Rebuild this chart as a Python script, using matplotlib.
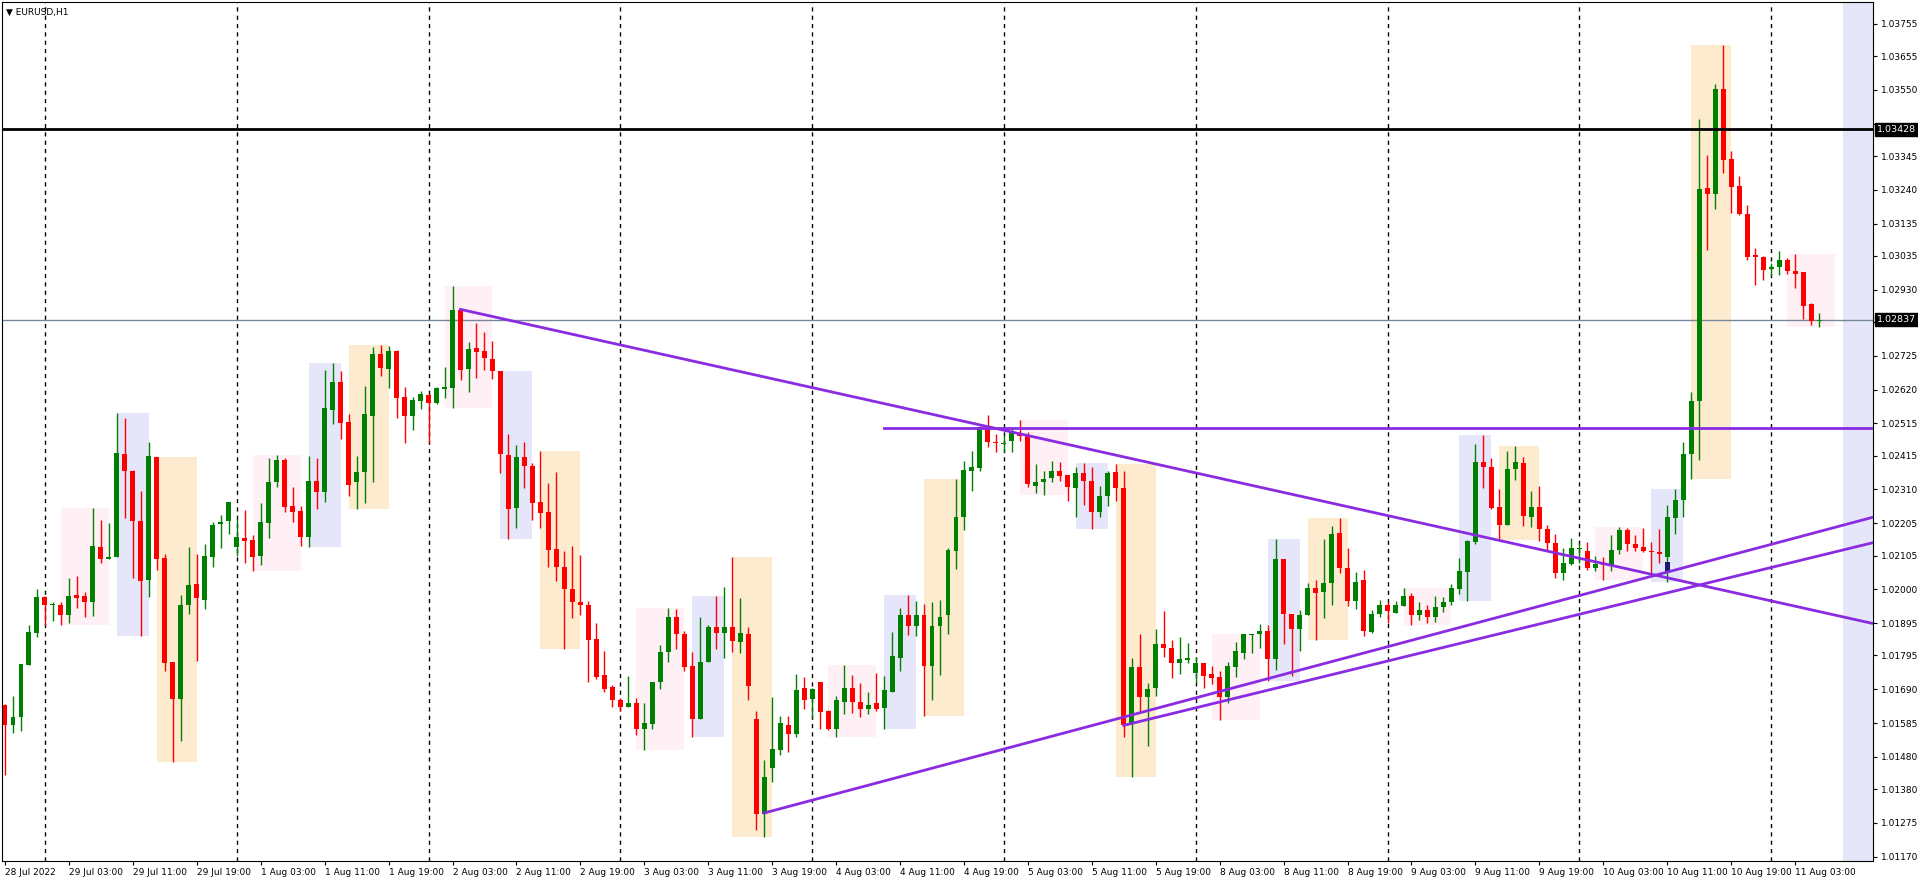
import matplotlib
matplotlib.use("Agg")
import matplotlib.pyplot as plt

# EURUSD H1 bars, 28 Jul 19:00 .. 11 Aug 06:00
opens = [1.01640, 1.01578, 1.01604, 1.01764, 1.01864, 1.01976, 1.01950, 1.01953, 1.01919, 1.01984,
         1.01978, 1.01960, 1.02132, 1.02093, 1.02099, 1.02419, 1.02368, 1.02213, 1.02030, 1.02411,
         1.02096, 1.01774, 1.01660, 1.01953, 1.02017, 1.01968, 1.02099, 1.02203, 1.02211, 1.02133,
         1.02159, 1.02154, 1.02105, 1.02205, 1.02332, 1.02402, 1.02259, 1.02244, 1.02164, 1.02337,
         1.02301, 1.02558, 1.02643, 1.02519, 1.02334, 1.02363, 1.02538, 1.02729, 1.02685, 1.02741,
         1.02597, 1.02539, 1.02586, 1.02602, 1.02579, 1.02623, 1.02626, 1.02868, 1.02685, 1.02748,
         1.02739, 1.02715, 1.02677, 1.02416, 1.02252, 1.02411, 1.02383, 1.02271, 1.02241, 1.02126,
         1.02070, 1.02001, 1.01962, 1.01953, 1.01845, 1.01733, 1.01697, 1.01656, 1.01634, 1.01647,
         1.01567, 1.01582, 1.01711, 1.01805, 1.01915, 1.01863, 1.01761, 1.01598, 1.01774, 1.01882,
         1.01866, 1.01882, 1.01838, 1.01863, 1.01598, 1.01304, 1.01446, 1.01501, 1.01580, 1.01551,
         1.01694, 1.01661, 1.01711, 1.01622, 1.01567, 1.01650, 1.01694, 1.01652, 1.01628, 1.01647,
         1.01631, 1.01680, 1.01788, 1.01919, 1.01886, 1.01921, 1.01761, 1.01885, 1.01919, 1.02119,
         1.02224, 1.02366, 1.02376, 1.02503, 1.02458, 1.02451, 1.02461, 1.02484, 1.02477, 1.02322,
         1.02334, 1.02345, 1.02368, 1.02356, 1.02314, 1.02360, 1.02337, 1.02239, 1.02289, 1.02365,
         1.02315, 1.01584, 1.01759, 1.01667, 1.01694, 1.01832, 1.01819, 1.01770, 1.01782, 1.01742,
         1.01773, 1.01737, 1.01728, 1.01667, 1.01759, 1.01803, 1.01858, 1.01860, 1.01870, 1.01783,
         1.02095, 1.01925, 1.01877, 1.01919, 1.02005, 1.01992, 1.02019, 1.02175, 1.02067, 1.01963,
         1.02028, 1.01868, 1.01925, 1.01950, 1.01927, 1.01948, 1.01981, 1.01919, 1.01935, 1.01915,
         1.01945, 1.01960, 1.02000, 1.02055, 1.02148, 1.02394, 1.02380, 1.02256, 1.02201, 1.02375,
         1.02391, 1.02225, 1.02256, 1.02187, 1.02143, 1.02051, 1.02079, 1.02124, 1.02120, 1.02066,
         1.02081, 1.02076, 1.02121, 1.02184, 1.02140, 1.02131, 1.02120, 1.02116, 1.02101, 1.02223,
         1.02276, 1.02419, 1.02584, 1.03246, 1.03226, 1.03553, 1.03336, 1.03251, 1.03165, 1.03039,
         1.03033, 1.02995, 1.02999, 1.03021, 1.02989, 1.02984, 1.02886, 1.02834]
highs = [1.01645, 1.01668, 1.01769, 1.01888, 1.02000, 1.01978, 1.01960, 1.01962, 1.02034, 1.02043,
         1.01993, 1.02254, 1.02216, 1.02205, 1.02548, 1.02533, 1.02371, 1.02306, 1.02457, 1.02411,
         1.02110, 1.01774, 1.01984, 1.02132, 1.02110, 1.02141, 1.02210, 1.02231, 1.02272, 1.02218,
         1.02247, 1.02169, 1.02267, 1.02409, 1.02417, 1.02409, 1.02319, 1.02259, 1.02414, 1.02409,
         1.02680, 1.02703, 1.02677, 1.02543, 1.02414, 1.02631, 1.02752, 1.02758, 1.02755, 1.02744,
         1.02628, 1.02597, 1.02615, 1.02605, 1.02628, 1.02690, 1.02941, 1.02869, 1.02767, 1.02828,
         1.02798, 1.02770, 1.02677, 1.02483, 1.02448, 1.02457, 1.02391, 1.02430, 1.02330, 1.02363,
         1.02120, 1.02135, 1.02107, 1.01965, 1.01897, 1.01810, 1.01702, 1.01663, 1.01731, 1.01664,
         1.01647, 1.01713, 1.01827, 1.01943, 1.01938, 1.01871, 1.01805, 1.01915, 1.01890, 1.01981,
         1.02006, 1.02099, 1.01973, 1.01882, 1.01622, 1.01470, 1.01667, 1.01606, 1.01606, 1.01736,
         1.01728, 1.01694, 1.01711, 1.01625, 1.01669, 1.01764, 1.01733, 1.01708, 1.01680, 1.01742,
         1.01731, 1.01869, 1.01943, 1.01982, 1.01965, 1.01954, 1.01960, 1.01967, 1.02128, 1.02342,
         1.02399, 1.02430, 1.02508, 1.02542, 1.02482, 1.02480, 1.02502, 1.02526, 1.02487, 1.02389,
         1.02368, 1.02399, 1.02396, 1.02356, 1.02379, 1.02392, 1.02381, 1.02322, 1.02368, 1.02389,
         1.02368, 1.01787, 1.01861, 1.01708, 1.01878, 1.01932, 1.01844, 1.01852, 1.01835, 1.01790,
         1.01773, 1.01761, 1.01747, 1.01775, 1.01837, 1.01863, 1.01863, 1.01894, 1.01888, 1.02155,
         1.02095, 1.01925, 1.01937, 1.02019, 1.02028, 1.02155, 1.02198, 1.02222, 1.02129, 1.02054,
         1.02061, 1.01935, 1.01966, 1.01961, 1.01963, 1.02004, 1.01990, 1.01960, 1.01950, 1.01980,
         1.01975, 1.02016, 1.02098, 1.02154, 1.02452, 1.02479, 1.02408, 1.02311, 1.02430, 1.02444,
         1.02411, 1.02306, 1.02322, 1.02201, 1.02173, 1.02127, 1.02160, 1.02145, 1.02148, 1.02105,
         1.02101, 1.02168, 1.02195, 1.02190, 1.02168, 1.02190, 1.02148, 1.02186, 1.02262, 1.02311,
         1.02458, 1.02612, 1.03461, 1.03348, 1.03569, 1.03688, 1.03362, 1.03284, 1.03194, 1.03058,
         1.03036, 1.03013, 1.03049, 1.03027, 1.03041, 1.02984, 1.02889, 1.02859]
lows = [1.01423, 1.01555, 1.01561, 1.01764, 1.01852, 1.01891, 1.01901, 1.01891, 1.01895, 1.01941,
        1.01914, 1.01916, 1.02081, 1.02093, 1.02099, 1.02220, 1.02035, 1.01855, 1.01976, 1.02060,
        1.01746, 1.01465, 1.01530, 1.01924, 1.01777, 1.01938, 1.02068, 1.02127, 1.02172, 1.02105,
        1.02081, 1.02056, 1.02077, 1.02158, 1.02318, 1.02239, 1.02208, 1.02135, 1.02133, 1.02249,
        1.02272, 1.02514, 1.02466, 1.02290, 1.02251, 1.02267, 1.02334, 1.02662, 1.02626, 1.02533,
        1.02455, 1.02495, 1.02561, 1.02453, 1.02576, 1.02595, 1.02564, 1.02649, 1.02613, 1.02656,
        1.02682, 1.02653, 1.02360, 1.02155, 1.02192, 1.02314, 1.02214, 1.02192, 1.02068, 1.02026,
        1.01816, 1.01910, 1.01919, 1.01711, 1.01722, 1.01683, 1.01636, 1.01622, 1.01634, 1.01548,
        1.01503, 1.01567, 1.01691, 1.01774, 1.01814, 1.01747, 1.01543, 1.01598, 1.01774, 1.01814,
        1.01788, 1.01805, 1.01802, 1.01656, 1.01254, 1.01230, 1.01401, 1.01486, 1.01495, 1.01543,
        1.01628, 1.01600, 1.01567, 1.01564, 1.01543, 1.01614, 1.01617, 1.01603, 1.01614, 1.01622,
        1.01567, 1.01680, 1.01746, 1.01857, 1.01855, 1.01606, 1.01658, 1.01733, 1.01863, 1.02062,
        1.02183, 1.02306, 1.02366, 1.02443, 1.02425, 1.02425, 1.02425, 1.02461, 1.02317, 1.02298,
        1.02294, 1.02334, 1.02337, 1.02275, 1.02226, 1.02263, 1.02188, 1.02224, 1.02260, 1.02275,
        1.01543, 1.01419, 1.01615, 1.01515, 1.01670, 1.01790, 1.01725, 1.01737, 1.01770, 1.01711,
        1.01695, 1.01705, 1.01596, 1.01646, 1.01728, 1.01785, 1.01801, 1.01819, 1.01715, 1.01751,
        1.01832, 1.01732, 1.01809, 1.01919, 1.01844, 1.01911, 1.01953, 1.02051, 1.01948, 1.01938,
        1.01855, 1.01865, 1.01914, 1.01897, 1.01927, 1.01948, 1.01888, 1.01905, 1.01895, 1.01900,
        1.01930, 1.01950, 1.01985, 1.01965, 1.02140, 1.02314, 1.02248, 1.02153, 1.02201, 1.02341,
        1.02197, 1.02195, 1.02151, 1.02123, 1.02035, 1.02029, 1.02076, 1.02082, 1.02060, 1.02057,
        1.02029, 1.02057, 1.02110, 1.02120, 1.02118, 1.02116, 1.02051, 1.02082, 1.02024, 1.02173,
        1.02225, 1.02344, 1.02400, 1.03054, 1.03182, 1.03292, 1.03168, 1.03161, 1.03022, 1.02945,
        1.02960, 1.02973, 1.02975, 1.02980, 1.02934, 1.02840, 1.02820, 1.02814]
closes = [1.01578, 1.01604, 1.01769, 1.01869, 1.01976, 1.01950, 1.01953, 1.01919, 1.01981, 1.01972,
          1.01960, 1.02135, 1.02093, 1.02101, 1.02424, 1.02366, 1.02213, 1.02027, 1.02414, 1.02093,
          1.01771, 1.01660, 1.01953, 1.02015, 1.01972, 1.02105, 1.02201, 1.02210, 1.02270, 1.02163,
          1.02151, 1.02102, 1.02208, 1.02332, 1.02402, 1.02257, 1.02241, 1.02164, 1.02337, 1.02301,
          1.02564, 1.02643, 1.02517, 1.02325, 1.02365, 1.02543, 1.02729, 1.02688, 1.02741, 1.02595,
          1.02539, 1.02587, 1.02605, 1.02579, 1.02624, 1.02628, 1.02868, 1.02680, 1.02747, 1.02737,
          1.02717, 1.02678, 1.02419, 1.02248, 1.02411, 1.02382, 1.02269, 1.02238, 1.02121, 1.02068,
          1.02001, 1.01962, 1.01951, 1.01842, 1.01728, 1.01691, 1.01656, 1.01634, 1.01647, 1.01567,
          1.01584, 1.01713, 1.01807, 1.01915, 1.01860, 1.01758, 1.01598, 1.01775, 1.01882, 1.01866,
          1.01882, 1.01841, 1.01866, 1.01700, 1.01302, 1.01418, 1.01504, 1.01584, 1.01551, 1.01687,
          1.01656, 1.01692, 1.01619, 1.01567, 1.01656, 1.01694, 1.01650, 1.01628, 1.01642, 1.01628,
          1.01687, 1.01792, 1.01919, 1.01886, 1.01921, 1.01761, 1.01885, 1.01915, 1.02121, 1.02226,
          1.02371, 1.02379, 1.02503, 1.02456, 1.02453, 1.02455, 1.02487, 1.02475, 1.02327, 1.02334,
          1.02342, 1.02368, 1.02353, 1.02317, 1.02362, 1.02337, 1.02239, 1.02291, 1.02362, 1.02315,
          1.01579, 1.01759, 1.01667, 1.01692, 1.01832, 1.01818, 1.01770, 1.01783, 1.01786, 1.01773,
          1.01732, 1.01726, 1.01667, 1.01761, 1.01808, 1.01861, 1.01861, 1.01870, 1.01783, 1.02095,
          1.01925, 1.01877, 1.01921, 1.02005, 1.01988, 1.02020, 1.02172, 1.02066, 1.01963, 1.02023,
          1.01871, 1.01925, 1.01950, 1.01933, 1.01950, 1.01981, 1.01919, 1.01935, 1.01915, 1.01945,
          1.01960, 1.02004, 1.02057, 1.02151, 1.02394, 1.02381, 1.02253, 1.02201, 1.02375, 1.02394,
          1.02228, 1.02256, 1.02186, 1.02143, 1.02051, 1.02082, 1.02127, 1.02129, 1.02066, 1.02079,
          1.02076, 1.02123, 1.02184, 1.02140, 1.02129, 1.02118, 1.02115, 1.02109, 1.02225, 1.02278,
          1.02420, 1.02584, 1.03243, 1.03226, 1.03553, 1.03334, 1.03248, 1.03165, 1.03033, 1.03033,
          1.02991, 1.03002, 1.03021, 1.02988, 1.02980, 1.02879, 1.02833, 1.02837]

# chart objects
day_starts = [5, 29, 53, 77, 101, 125, 149, 173, 197, 221]
sessions = [(2, 6, "#FFF0F5"), (9, 4, "#E6E6FA"), (14, 5, "#FDEBD0")]  # offset, bars, colour
resist_level = 1.03428
last_price = 1.02837
flat_line = (110, 1.02502)
down_line = [(57, 1.02869), (233.75, 1.01894)]
up_line_1 = [(95, 1.01306), (233.75, 1.02224)]
up_line_2 = [(140, 1.01578), (233.75, 1.02145)]
marker_bar, marker_price = 208, 1.02068

price_ticks = [1.01170, 1.01275, 1.01380, 1.01480, 1.01585, 1.01690, 1.01795, 1.01895, 1.02000,
               1.02105, 1.02205, 1.02310, 1.02415, 1.02515, 1.02620, 1.02725, 1.02830, 1.02930,
               1.03035, 1.03135, 1.03240, 1.03345, 1.03445, 1.03550, 1.03655, 1.03755]
time_labels = ["28 Jul 2022", "29 Jul 03:00", "29 Jul 11:00", "29 Jul 19:00", "1 Aug 03:00",
               "1 Aug 11:00", "1 Aug 19:00", "2 Aug 03:00", "2 Aug 11:00", "2 Aug 19:00",
               "3 Aug 03:00", "3 Aug 11:00", "3 Aug 19:00", "4 Aug 03:00", "4 Aug 11:00",
               "4 Aug 19:00", "5 Aug 03:00", "5 Aug 11:00", "5 Aug 19:00", "8 Aug 03:00",
               "8 Aug 11:00", "8 Aug 19:00", "9 Aug 03:00", "9 Aug 11:00", "9 Aug 19:00",
               "10 Aug 03:00", "10 Aug 11:00", "10 Aug 19:00", "11 Aug 03:00"]

n = len(closes)
ymin, ymax = 1.01157, 1.03823
xmin, xmax = -0.375, 233.75

plt.rcParams['font.family'] = ['DejaVu Sans']
fig = plt.figure(figsize=(19.18, 8.8), dpi=100)
ax = fig.add_axes([2 / 1918, 19 / 880, 1871 / 1918, 859 / 880])
ax.set_xlim(xmin, xmax)
ax.set_ylim(ymin, ymax)

# session boxes
for d in day_starts:
    for off, cnt, col in sessions:
        s = d + off
        idx = [i for i in range(s, s + cnt) if i < n]
        if idx:
            lo = min(lows[i] for i in idx)
            hi = max(highs[i] for i in idx)
        else:
            lo, hi = ymin, ymax
        ax.fill_between([s, s + cnt], lo, hi, color=col, lw=0, zorder=0)

# day separators
for d in day_starts:
    ax.axvline(d, color="black", lw=1, ls=(0, (3, 3)), zorder=1)

# candles
for i in range(n):
    up = closes[i] >= opens[i]
    col = "#008000" if up else "#FF0000"
    ax.vlines(i, lows[i], highs[i], color=col, lw=1, zorder=3)
    bot = min(opens[i], closes[i])
    h = max(abs(closes[i] - opens[i]), 0.000035)
    ax.bar(i, h, bottom=bot, width=0.62, color=col, lw=0, zorder=4)
ax.bar(marker_bar, 0.00035, bottom=marker_price - 0.000175, width=0.62, color="#191970", zorder=5)

# levels and trend lines
ax.axhline(resist_level, color="black", lw=2, zorder=6)
ax.axhline(last_price, color="#778899", lw=1, zorder=2)
pc = "#8A2BE2"
ax.plot([flat_line[0], xmax], [flat_line[1], flat_line[1]], color=pc, lw=2, zorder=6)
for ln in (down_line, up_line_1, up_line_2):
    ax.plot([p[0] for p in ln], [p[1] for p in ln], color=pc, lw=2, zorder=6)

# axes styling
for sp in ax.spines.values():
    sp.set_color("black")
ax.yaxis.tick_right()
ax.set_yticks(price_ticks)
# labels hidden behind the price boxes are left blank
hidden = (1.02830, 1.03445)
ax.set_yticklabels(["" if p in hidden else f"{p:.5f}" for p in price_ticks], fontsize=6.5)
ax.tick_params(axis="y", length=3, pad=3)
ax.set_xticks(range(0, 8 * len(time_labels), 8))
ax.set_xticklabels(time_labels, fontsize=6.5, ha="left")
ax.tick_params(axis="x", length=3, pad=2)

for v in (resist_level, last_price):
    ax.text(1.002, v, f"{v:.5f}", transform=ax.get_yaxis_transform(), fontsize=6.8,
            color="white", va="center", ha="left",
            bbox=dict(boxstyle="square,pad=0.2", fc="black", ec="black"))

ax.text(0.002, 0.993, "\u25BC EURUSD,H1", transform=ax.transAxes, fontsize=6.5, va="top")

fig.savefig("out.png", dpi=100)
